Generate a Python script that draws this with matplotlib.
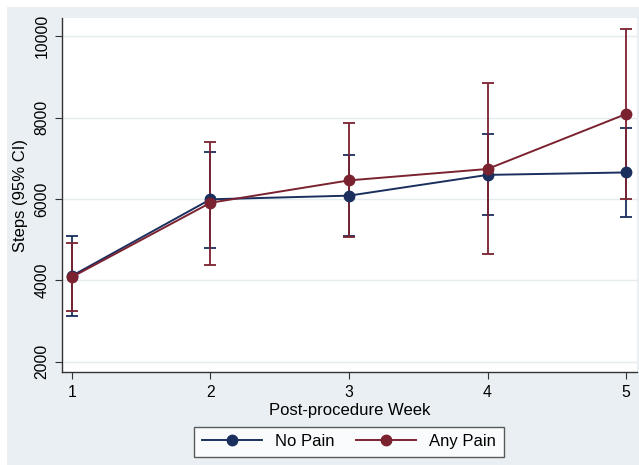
import numpy as np
import matplotlib
matplotlib.use("Agg")
import matplotlib.pyplot as plt
from matplotlib.patches import Rectangle

plt.rcParams["font.family"] = ["Liberation Sans", "DejaVu Sans"]

weeks = [1, 2, 3, 4, 5]
no_pain_mean = [4110, 5990, 6080, 6590, 6650]
no_pain_lo = [3120, 4790, 5080, 5600, 5555]
no_pain_hi = [5090, 7150, 7090, 7595, 7750]
any_pain_mean = [4080, 5905, 6455, 6735, 8085]
any_pain_lo = [3245, 4375, 5060, 4645, 6000]
any_pain_hi = [4915, 7405, 7865, 8855, 10165]
y_ticks = [2000, 4000, 6000, 8000, 10000]

blue = "#1b2f5e"
red = "#7b2230"
bg = "#e9eff2"

fig = plt.figure(figsize=(6.39, 4.65), dpi=100)
fig.patch.set_facecolor("white")
fig.patches.append(Rectangle((7 / 639, 0), 1 - 7 / 639, 1 - 7 / 465,
                             transform=fig.transFigure, facecolor=bg,
                             edgecolor="none", zorder=-10))
ax = fig.add_axes([0.097, 0.1994, 0.8994, 0.7612])
ax.set_facecolor("white")

for mean, lo, hi, color, label in [
    (no_pain_mean, no_pain_lo, no_pain_hi, blue, "No Pain"),
    (any_pain_mean, any_pain_lo, any_pain_hi, red, "Any Pain"),
]:
    mean = np.array(mean)
    err = [mean - np.array(lo), np.array(hi) - mean]
    ax.errorbar(weeks, mean, yerr=err, fmt="none", ecolor=color,
                elinewidth=1.3, capsize=4, capthick=1.3, zorder=2)
    ax.plot(weeks, mean, color=color, lw=1.4, marker="o", ms=7.5,
            label=label, zorder=3)

ax.set_xlim(0.928, 5.077)
ax.set_ylim(1740, 10437)
ax.set_xticks(weeks)
ax.set_yticks(y_ticks)
ax.set_yticklabels([str(t) for t in y_ticks], rotation=90, va="center")
ax.grid(axis="y", color="#e4ecef", lw=1)
ax.set_axisbelow(True)
for s in ["top", "right"]:
    ax.spines[s].set_visible(False)
for s in ["left", "bottom"]:
    ax.spines[s].set_color("#333333")
    ax.spines[s].set_linewidth(1)
ax.tick_params(direction="out", length=5, color="#333333", labelsize=11.3,
               pad=4)
ax.set_xlabel("Post-procedure Week", fontsize=12, labelpad=2)
ax.set_ylabel("Steps (95% CI)", fontsize=12, labelpad=5)

leg = fig.legend(loc="center", bbox_to_anchor=(0.546, 0.050), ncol=2,
                 fontsize=12, frameon=True, fancybox=False,
                 edgecolor="#333333", handlelength=3.6, columnspacing=1.3,
                 handletextpad=0.8, borderpad=0.45)
leg.get_frame().set_linewidth(1)
leg.get_frame().set_facecolor("white")

fig.savefig("out.png", dpi=100)
